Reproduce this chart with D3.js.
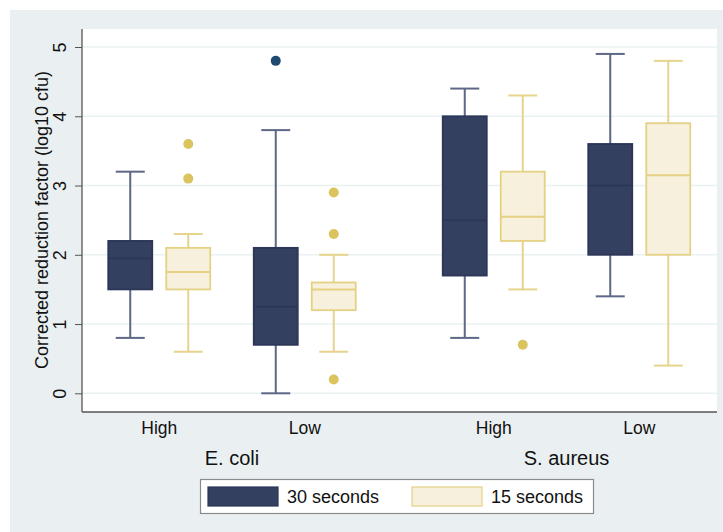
<!DOCTYPE html>
<html><head><meta charset="utf-8">
<script src="https://cdn.jsdelivr.net/npm/d3@7"></script>
<style>body{margin:0;background:#fff}svg{display:block}text{font-family:"Liberation Sans",Arial,sans-serif}</style>
</head><body><svg id="c" width="723" height="532"></svg>
<script>
const organisms = ["E. coli", "S. aureus"];
const levels = ["High", "Low"];
const series = ["30 seconds", "15 seconds"];
const yTicks = [0, 1, 2, 3, 4, 5];
// [organism, level, series, lowerWhisker, q1, median, q3, upperWhisker]
const boxStats = [
  ["E. coli", "High", "30 seconds", 0.8, 1.5, 1.95, 2.2, 3.2],
  ["E. coli", "High", "15 seconds", 0.6, 1.5, 1.75, 2.1, 2.3],
  ["E. coli", "Low", "30 seconds", 0.0, 0.7, 1.25, 2.1, 3.8],
  ["E. coli", "Low", "15 seconds", 0.6, 1.2, 1.5, 1.6, 2.0],
  ["S. aureus", "High", "30 seconds", 0.8, 1.7, 2.5, 4.0, 4.4],
  ["S. aureus", "High", "15 seconds", 1.5, 2.2, 2.55, 3.2, 4.3],
  ["S. aureus", "Low", "30 seconds", 1.4, 2.0, 3.0, 3.6, 4.9],
  ["S. aureus", "Low", "15 seconds", 0.4, 2.0, 3.15, 3.9, 4.8]
];
// [organism, level, series, value]
const outliers = [
  ["E. coli", "High", "15 seconds", 3.6],
  ["E. coli", "High", "15 seconds", 3.1],
  ["E. coli", "Low", "30 seconds", 4.8],
  ["E. coli", "Low", "15 seconds", 2.9],
  ["E. coli", "Low", "15 seconds", 2.3],
  ["E. coli", "Low", "15 seconds", 0.2],
  ["S. aureus", "High", "15 seconds", 0.7]
];

const svg = d3.select("#c");
const W = 723, H = 532;
const plot = {l: 82, r: 717, t: 29, b: 412};

svg.append("rect").attr("x", 10).attr("y", 10).attr("width", W - 10).attr("height", H - 10).attr("fill", "#eaf0f2");
svg.append("rect").attr("x", plot.l).attr("y", plot.t).attr("width", plot.r - plot.l).attr("height", plot.b - plot.t).attr("fill", "#ffffff");

const y = d3.scaleLinear().domain([-0.27, 5.26]).range([plot.b, plot.t]);
const xOrg = d3.scalePoint().domain(organisms).range([232, 566.5]);
const xLev = d3.scalePoint().domain(levels).range([-72.75, 72.75]);
const xSer = d3.scalePoint().domain(series).range([-29, 29]);
const cx = (o, l, s) => xOrg(o) + xLev(l) + xSer(s);
const boxW = 44, capW = 29;

const style = {
  "30 seconds": {fill: "#34405f", stroke: "#2b3658", whisk: "#5d6786", dot: "#1d4a70"},
  "15 seconds": {fill: "#f6f0dd", stroke: "#e5d184", whisk: "#e6d38c", dot: "#dbc35e"}
};

// grid
svg.append("g").selectAll("line").data(yTicks).join("line")
  .attr("x1", plot.l).attr("x2", plot.r)
  .attr("y1", d => y(d)).attr("y2", d => y(d))
  .attr("stroke", "#eaf1f2").attr("stroke-width", 1.5);

// y axis
const ya = svg.append("g").attr("transform", `translate(${plot.l},0)`)
  .call(d3.axisLeft(y).tickValues(yTicks).tickSize(7).tickPadding(4).tickFormat(d3.format("d")));
ya.select(".domain").attr("stroke", "#555").attr("stroke-width", 1.3).attr("d", `M0,${plot.t}V${plot.b}`);
ya.selectAll(".tick line").attr("stroke", "#555");
ya.selectAll(".tick text").attr("font-size", 18).attr("fill", "#111")
  .attr("transform", "rotate(-90)").attr("x", 0).attr("y", -16).attr("dy", "0").attr("text-anchor", "middle");

// bottom axis line
svg.append("line").attr("x1", plot.l).attr("x2", plot.r).attr("y1", plot.b).attr("y2", plot.b)
  .attr("stroke", "#555").attr("stroke-width", 1.3);

// y title
svg.append("text").attr("transform", `translate(48,220) rotate(-90)`)
  .attr("text-anchor", "middle").attr("font-size", 18).attr("fill", "#111")
  .text("Corrected reduction factor (log10 cfu)");

// x labels
const xl = [];
organisms.forEach(o => levels.forEach(l => xl.push([o, l])));
svg.append("g").selectAll("text").data(xl).join("text")
  .attr("x", d => xOrg(d[0]) + xLev(d[1])).attr("y", 434)
  .attr("text-anchor", "middle").attr("font-size", 17.5).attr("fill", "#111").text(d => d[1]);
svg.append("g").selectAll("text").data(organisms).join("text")
  .attr("x", d => xOrg(d)).attr("y", 465)
  .attr("text-anchor", "middle").attr("font-size", 20).attr("fill", "#111").text(d => d);

// boxes
const g = svg.append("g");
boxStats.forEach(d => {
  const [o, l, s, lo, q1, med, q3, hi] = d;
  const c = cx(o, l, s), st = style[s];
  g.append("line").attr("x1", c).attr("x2", c).attr("y1", y(hi)).attr("y2", y(q3)).attr("stroke", st.whisk).attr("stroke-width", 2);
  g.append("line").attr("x1", c).attr("x2", c).attr("y1", y(q1)).attr("y2", y(lo)).attr("stroke", st.whisk).attr("stroke-width", 2);
  g.append("line").attr("x1", c - capW / 2).attr("x2", c + capW / 2).attr("y1", y(hi)).attr("y2", y(hi)).attr("stroke", st.whisk).attr("stroke-width", 2);
  g.append("line").attr("x1", c - capW / 2).attr("x2", c + capW / 2).attr("y1", y(lo)).attr("y2", y(lo)).attr("stroke", st.whisk).attr("stroke-width", 2);
  g.append("rect").attr("x", c - boxW / 2).attr("y", y(q3)).attr("width", boxW).attr("height", y(q1) - y(q3))
    .attr("fill", st.fill).attr("stroke", st.stroke).attr("stroke-width", 1.8);
  g.append("line").attr("x1", c - boxW / 2).attr("x2", c + boxW / 2).attr("y1", y(med)).attr("y2", y(med)).attr("stroke", st.stroke).attr("stroke-width", 2);
});
g.selectAll("circle").data(outliers).join("circle")
  .attr("cx", d => cx(d[0], d[1], d[2])).attr("cy", d => y(d[3])).attr("r", 5)
  .attr("fill", d => style[d[2]].dot);

// legend
const lg = svg.append("g");
lg.append("rect").attr("x", 200.5).attr("y", 479.5).attr("width", 393).attr("height", 34)
  .attr("fill", "#fff").attr("stroke", "#8a8a8a").attr("stroke-width", 1.2);
const legX = d3.scalePoint().domain(series).range([208, 412]);
series.forEach(s => {
  const x0 = legX(s);
  lg.append("rect").attr("x", x0).attr("y", 487).attr("width", 70).attr("height", 19)
    .attr("fill", style[s].fill).attr("stroke", style[s].stroke).attr("stroke-width", 1.2);
  lg.append("text").attr("x", x0 + 79).attr("y", 503).attr("font-size", 18).attr("fill", "#111").text(s);
});
</script></body></html>
